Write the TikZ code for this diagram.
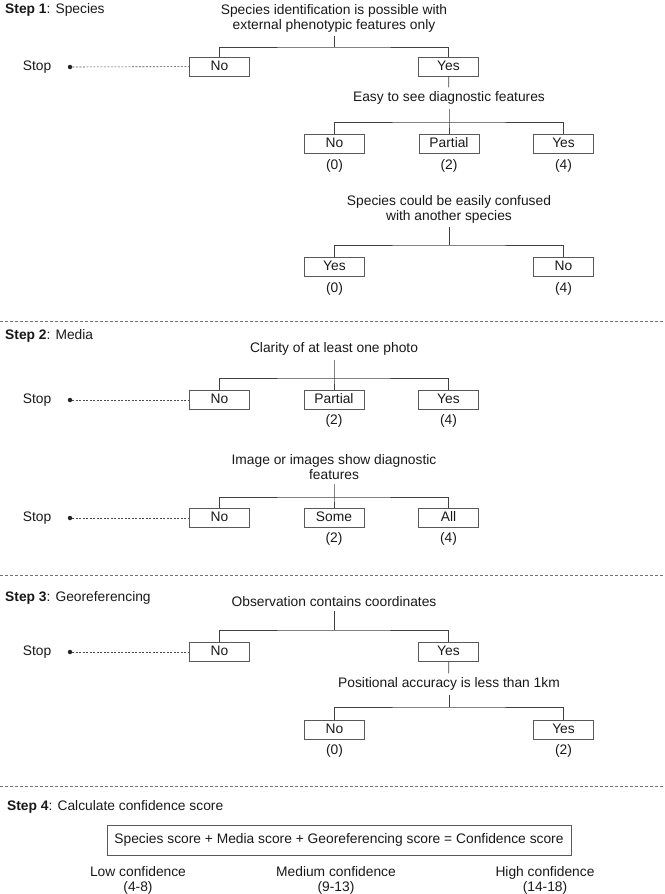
\documentclass[tikz,border=0pt]{standalone}
\usepackage{fontspec}
\setmainfont{Liberation Sans}
\tikzset {
    choice/.style = {draw = black!65, line width = 0.7pt, minimum width = 60pt,
        minimum height = 19pt, inner sep = 0pt, text height = 9.9pt, text depth = 2.9pt},
    question/.style = {align = center, inner sep = 4pt},
    score/.style = {inner sep = 1pt},
    branch/.style = {draw = black!75, line width = 0.7pt},
    stop line/.style = {draw = black!70, dash pattern = on 2pt off 1.5pt, line width = 0.6pt},
    separator/.style = {draw = black!55, dash pattern = on 3pt off 2pt, line width = 0.6pt},
    stop dot/.style = {circle, fill = black!85, inner sep = 0pt, minimum size = 4.5pt},
    step label/.style = {anchor = west, inner sep = 0pt},
}
\begin{document}
\begin{tikzpicture}[x = 1pt, y = -1pt, font = \fontsize{13.8}{15}\selectfont, text = black!90]
    \useasboundingbox (0, 0) rectangle (664, 894);
    \foreach \y in {321, 575, 786}
        \draw [separator] (0, \y) -- (664, \y);
    % step 1: species
    \node [step label] (l1) at (5, 10) {\textbf{Step 1}: Species};
    \node [question] (q1) at (334, 18) {Species identification is possible with\\external phenotypic features only};
    \coordinate (b1) at (334, 47);
    \node [choice] (no1) at (219.5, 66.5) {No};
    \node [choice] (yes1) at (448.5, 66.5) {Yes};
    \node (stop1) at (37, 67) {Stop};
    \node [stop dot] (d1) at (70, 67) {};
    \draw [branch] (q1) -- (b1);
    \draw [branch] (no1) |- (b1) -| (yes1);
    \draw [stop line] (d1) -- (no1);
    \node [question] (q2) at (449, 98) {Easy to see diagnostic features};
    \coordinate (b2) at (449, 122);
    \node [choice] (no2) at (334.5, 144) {No};
    \node [choice] (part2) at (449, 144) {Partial};
    \node [choice] (yes2) at (563.5, 144) {Yes};
    \draw [branch] (yes1) -- (q2);
    \draw [branch] (q2) -- (b2) -- (part2);
    \draw [branch] (no2) |- (b2) -| (yes2);
    \node [score] (s2a) at (334.5, 166) {(0)};
    \node [score] (s2b) at (449, 166) {(2)};
    \node [score] (s2c) at (563.5, 166) {(4)};
    \node [question] (q3) at (449, 209) {Species could be easily confused\\with another species};
    \coordinate (b3) at (449, 245);
    \node [choice] (yes3) at (334.5, 267) {Yes};
    \node [choice] (no3) at (563.5, 267) {No};
    \draw [branch] (q3) -- (b3);
    \draw [branch] (yes3) |- (b3) -| (no3);
    \node [score] (s3a) at (334.5, 289) {(0)};
    \node [score] (s3b) at (563.5, 289) {(4)};
    % step 2: media
    \node [step label] (l2) at (5, 336) {\textbf{Step 2}: Media};
    \node [question] (q4) at (334, 349) {Clarity of at least one photo};
    \coordinate (b4) at (334, 378);
    \node [choice] (no4) at (219.5, 400) {No};
    \node [choice] (part4) at (334, 400) {Partial};
    \node [choice] (yes4) at (448.5, 400) {Yes};
    \node (stop4) at (37, 400) {Stop};
    \node [stop dot] (d4) at (70, 400) {};
    \draw [branch] (q4) -- (b4) -- (part4);
    \draw [branch] (no4) |- (b4) -| (yes4);
    \draw [stop line] (d4) -- (no4);
    \node [score] (s4b) at (334, 421) {(2)};
    \node [score] (s4c) at (448.5, 421) {(4)};
    \node [question] (q5) at (334, 467) {Image or images show diagnostic\\features};
    \coordinate (b5) at (334, 497);
    \node [choice] (no5) at (219.5, 518) {No};
    \node [choice] (some5) at (334, 518) {Some};
    \node [choice] (all5) at (448.5, 518) {All};
    \node (stop5) at (37, 518) {Stop};
    \node [stop dot] (d5) at (70, 518) {};
    \draw [branch] (q5) -- (b5) -- (some5);
    \draw [branch] (no5) |- (b5) -| (all5);
    \draw [stop line] (d5) -- (no5);
    \node [score] (s5b) at (334, 539) {(2)};
    \node [score] (s5c) at (448.5, 539) {(4)};
    % step 3: georeferencing
    \node [step label] (l3) at (5, 598) {\textbf{Step 3}: Georeferencing};
    \node [question] (q6) at (334, 602) {Observation contains coordinates};
    \coordinate (b6) at (334, 630);
    \node [choice] (no6) at (219.5, 652) {No};
    \node [choice] (yes6) at (448.5, 652) {Yes};
    \node (stop6) at (37, 652) {Stop};
    \node [stop dot] (d6) at (70, 652) {};
    \draw [branch] (q6) -- (b6);
    \draw [branch] (no6) |- (b6) -| (yes6);
    \draw [stop line] (d6) -- (no6);
    \node [question] (q7) at (449, 684) {Positional accuracy is less than 1km};
    \coordinate (b7) at (449, 707);
    \node [choice] (no7) at (334.5, 730) {No};
    \node [choice] (yes7) at (563.5, 730) {Yes};
    \draw [branch] (yes6) -- (q7);
    \draw [branch] (q7) -- (b7);
    \draw [branch] (no7) |- (b7) -| (yes7);
    \node [score] (s7a) at (334.5, 751) {(0)};
    \node [score] (s7b) at (563.5, 751) {(2)};
    % step 4: confidence score
    \node [step label] (l4) at (7, 807) {\textbf{Step 4}: Calculate confidence score};
    \node [draw = black!65, line width = 0.7pt, minimum width = 464pt, minimum height = 30pt,
        inner sep = 0pt] (sum) at (339, 840) {Species score + Media score + Georeferencing score = Confidence score};
    \node [question, inner sep = 0pt] (low) at (138, 880) {Low confidence\\(4-8)};
    \node [question, inner sep = 0pt] (med) at (336, 880) {Medium confidence\\(9-13)};
    \node [question, inner sep = 0pt] (high) at (545, 880) {High confidence\\(14-18)};
\end{tikzpicture}
\end{document}
